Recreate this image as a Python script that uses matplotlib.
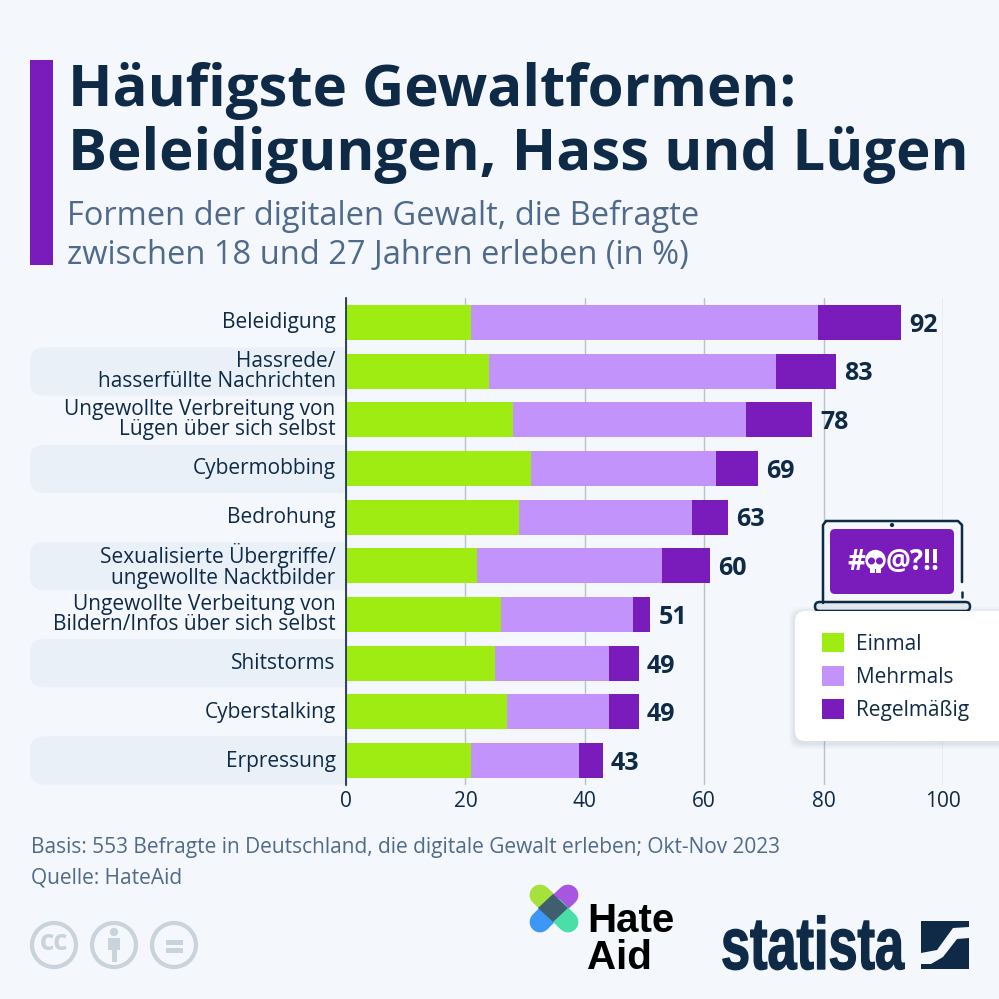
import numpy as np
import matplotlib
matplotlib.use('Agg')
import matplotlib.pyplot as plt
from matplotlib.patches import Rectangle, FancyBboxPatch, Circle, Polygon, PathPatch
from matplotlib.path import Path
from matplotlib.patheffects import AbstractPathEffect
from matplotlib.transforms import Affine2D, ScaledTranslation

categories = ['Beleidigung', 'Hassrede/\nhasserfüllte Nachrichten',
              'Ungewollte Verbreitung von\nLügen über sich selbst', 'Cybermobbing', 'Bedrohung',
              'Sexualisierte Übergriffe/\nungewollte Nacktbilder',
              'Ungewollte Verbeitung von\nBildern/Infos über sich selbst',
              'Shitstorms', 'Cyberstalking', 'Erpressung']
einmal = [21, 24, 28, 31, 29, 22, 26, 25, 27, 21]
mehrmals = [58, 48, 39, 31, 29, 31, 22, 19, 17, 18]
regelmaessig = [14, 10, 11, 7, 6, 8, 3, 5, 5, 4]
totals = [92, 83, 78, 69, 63, 60, 51, 49, 49, 43]
xticks = [0, 20, 40, 60, 80, 100]

BG = '#F4F7FB'
BAND = '#EAF0F8'
DARK = '#0F2A47'
SUB = '#4F6A8A'
GREEN = '#9FEC12'
LILAC = '#C293FB'
PURPLE = '#7A1CBC'
GREY = '#C8D3DC'

plt.rcParams['font.family'] = ['Open Sans', 'DejaVu Sans']


class Squeeze(AbstractPathEffect):
    # narrows a text horizontally around x0 (display px), fatter strokes with lw
    def __init__(self, x0, sx, lw=0):
        super().__init__()
        self.x0, self.sx, self.lw = x0, sx, lw

    def draw_path(self, renderer, gc, tpath, affine, rgbFace=None):
        tr = affine + Affine2D().translate(-self.x0, 0).scale(self.sx, 1).translate(self.x0, 0)
        gc0 = renderer.new_gc()
        gc0.copy_properties(gc)
        gc0.set_linewidth(self.lw)
        gc0.set_foreground(rgbFace)
        renderer.draw_path(gc0, tpath, tr, rgbFace)
        gc0.restore()


def px(x, y, w, h):
    # pixel box (from top left) to figure fractions
    return [x / 999, 1 - (y + h) / 999, w / 999, h / 999]


fig = plt.figure(figsize=(9.99, 9.99), dpi=100, facecolor=BG)

# background layer, pixel coordinates
bg = fig.add_axes([0, 0, 1, 1], zorder=0)
bg.set_xlim(0, 999)
bg.set_ylim(999, 0)
bg.axis('off')

bg.add_patch(Rectangle((30, 60), 23, 205, color=PURPLE, lw=0))
bg.text(68, 91, 'Häufigste Gewaltformen:', fontsize=41.9, fontweight='bold', color=DARK, va='center')
bg.text(68, 155, 'Beleidigungen, Hass und Lügen', fontsize=41.9, fontweight='bold', color=DARK, va='center')
bg.text(67, 216, 'Formen der digitalen Gewalt, die Befragte', fontsize=23.5, color=SUB, va='center')
bg.text(67, 256, 'zwischen 18 und 27 Jahren erleben (in %)', fontsize=23.5, color=SUB, va='center')

# bands behind every second label, square at the axis line
clip = Rectangle((0, 0), 346, 999, transform=bg.transData)
for i in range(1, len(categories), 2):
    yc = 323 + i * 48.6
    band = bg.add_patch(FancyBboxPatch((30, yc - 24), 340, 48, boxstyle='round,pad=0,rounding_size=14',
                                       fc=BAND, ec='none', lw=0))
    band.set_clip_path(clip)

bg.text(31, 847, 'Basis: 553 Befragte in Deutschland, die digitale Gewalt erleben; Okt-Nov 2023',
        fontsize=15.05, color=SUB, va='center')
bg.text(31, 878, 'Quelle: HateAid', fontsize=15.05, color=SUB, va='center')

# chart
ax = fig.add_axes(px(346, 298, 597, 487), zorder=1)
ax.patch.set_alpha(0)
y = np.arange(len(categories))
left2 = np.array(einmal) + np.array(mehrmals)
b1 = ax.barh(y, einmal, height=0.72, color=GREEN, label='Einmal', zorder=2)
b2 = ax.barh(y, mehrmals, left=einmal, height=0.72, color=LILAC, label='Mehrmals', zorder=2)
b3 = ax.barh(y, regelmaessig, left=left2, height=0.72, color=PURPLE, label='Regelmäßig', zorder=2)
ax.set_xlim(0, 100)
ax.set_ylim(9.5, -0.5)
ax.set_xticks(xticks)
ax.set_yticks(y)
ax.set_yticklabels(categories, fontsize=15, color=DARK, linespacing=0.95)
ax.tick_params(axis='y', length=0, pad=7.5)
ax.tick_params(axis='x', length=0, pad=4, labelsize=15, labelcolor=DARK)
for lbl in ax.get_yticklabels():
    lbl.set_transform(lbl.get_transform() + ScaledTranslation(0, 2 / 100, fig.dpi_scale_trans))
ax.grid(axis='x', color='#B9C3CC', lw=1, zorder=0)
for s in ['top', 'right', 'bottom']:
    ax.spines[s].set_visible(False)
ax.spines['left'].set_color(DARK)
ax.spines['left'].set_linewidth(1.2)
ax.spines['left'].set_zorder(3)
for i, t in enumerate(totals):
    ax.annotate(str(t), (left2[i] + regelmaessig[i], i), xytext=(6, -2), textcoords='offset points',
                fontsize=18, fontweight='bold', color=DARK, va='center', zorder=4)

# foreground layer: laptop, legend, logos
fg = fig.add_axes([0, 0, 1, 1], zorder=2)
fg.set_xlim(0, 999)
fg.set_ylim(999, 0)
fg.axis('off')

# laptop
fg.add_patch(Rectangle((823, 522), 139, 82, fc=BG, ec='none'))
fg.plot([823, 823, 826], [603, 525, 521], color=DARK, lw=1.8, solid_capstyle='round')
fg.plot([826, 958, 962, 962], [521, 521, 525, 582], color=DARK, lw=1.8, solid_capstyle='round')
fg.plot([962, 962], [592, 597], color=DARK, lw=1.8, solid_capstyle='round')
fg.add_patch(Circle((892, 525), 1.4, color=DARK))
fg.add_patch(FancyBboxPatch((830, 529), 124, 65, boxstyle='round,pad=0,rounding_size=5', fc=PURPLE, ec='none'))
fg.add_patch(FancyBboxPatch((815, 602), 155, 9, boxstyle='round,pad=0,rounding_size=4.5',
                            fc='#E3E8EE', ec=DARK, lw=1.8))
fg.text(856, 563, '#', fontsize=20, fontweight='bold', color='white', ha='center', va='center')
fg.text(886, 563, '@?!!', fontsize=20, fontweight='bold', color='white', ha='left', va='center')
fg.add_patch(Circle((875.5, 560), 9.5, color='white'))
fg.add_patch(Rectangle((870, 566), 11, 7, color='white', lw=0))
fg.add_patch(Circle((871.5, 561), 2.8, color=PURPLE))
fg.add_patch(Circle((879.5, 561), 2.8, color=PURPLE))
fg.add_patch(Rectangle((875, 569), 1.2, 4, color=PURPLE, lw=0))

# legend box
for grow, a in [(6, 0.02), (4, 0.03), (2, 0.04)]:
    fg.add_patch(FancyBboxPatch((795 - grow, 611 - grow + 2), 260 + 2 * grow, 130 + 2 * grow,
                                boxstyle='round,pad=0,rounding_size=10', fc='#0F2A47', ec='none', alpha=a))
fg.add_patch(FancyBboxPatch((795, 611), 260, 130, boxstyle='round,pad=0,rounding_size=10', fc='white', ec='none'))
fg.legend(handles=[b1, b2, b3], loc='upper left', bbox_to_anchor=(822, 633), bbox_transform=fg.transData,
          frameon=False, fontsize=15, labelcolor=DARK, handlelength=1.06, handleheight=1.06,
          handletextpad=0.58, labelspacing=0.54, borderpad=0, borderaxespad=0)

# cc icons
for cx in [54, 114, 174]:
    fg.add_patch(Circle((cx, 945), 22, fc='none', ec=GREY, lw=3))
fg.text(54, 943, 'cc', fontsize=20, fontweight='bold', color=GREY, ha='center', va='center')
fg.add_patch(Circle((114, 932), 3.5, color=GREY))
fg.add_patch(Rectangle((108, 938), 12, 12, color=GREY, lw=0))
fg.add_patch(Rectangle((111.5, 950), 5, 12, color=GREY, lw=0))
fg.add_patch(Rectangle((166, 940), 17, 4.5, color=GREY, lw=0))
fg.add_patch(Rectangle((166, 948), 17, 4.5, color=GREY, lw=0))

# HateAid logo
capsules = [((540, 895), (554, 908), '#A6E23C'), ((568, 895), (554, 908), '#A855E0'),
            ((540, 922), (554, 908), '#3C97F5'), ((568, 922), (554, 908), '#4ADFA8')]
for p, q, c in capsules:
    fg.plot([p[0], q[0]], [p[1], q[1]], color=c, lw=15, solid_capstyle='round')
fg.add_patch(Polygon([(553, 894), (568, 908), (553, 922), (538, 908)], fc='#3F5F70', ec='none', zorder=3))
fg.text(587, 932, 'Hate', fontsize=29, fontweight='bold', color='black', va='baseline',
        family=['Liberation Sans', 'DejaVu Sans'])
fg.text(587, 969, 'Aid', fontsize=29, fontweight='bold', color='black', va='baseline',
        family=['Liberation Sans', 'DejaVu Sans'])

# statista logo
fg.text(721, 969, 'statista', fontsize=53, fontweight='bold', color=DARK, va='baseline',
        family=['Liberation Sans', 'DejaVu Sans'], path_effects=[Squeeze(721, 0.71, lw=1.0)])
fg.add_patch(Rectangle((921, 921), 48, 48, color=DARK, lw=0))
s_verts = [(969, 927), (953, 928), (937, 950), (921, 953), (921, 964), (931, 964),
           (943, 957), (957, 939), (969, 938), (969, 927)]
s_codes = [Path.MOVETO, Path.LINETO, Path.LINETO, Path.LINETO, Path.LINETO, Path.LINETO,
           Path.LINETO, Path.LINETO, Path.LINETO, Path.CLOSEPOLY]
fg.add_patch(PathPatch(Path(s_verts, s_codes), fc=BG, ec='none', zorder=3))

fig.savefig('out.png', dpi=100, facecolor=BG)
